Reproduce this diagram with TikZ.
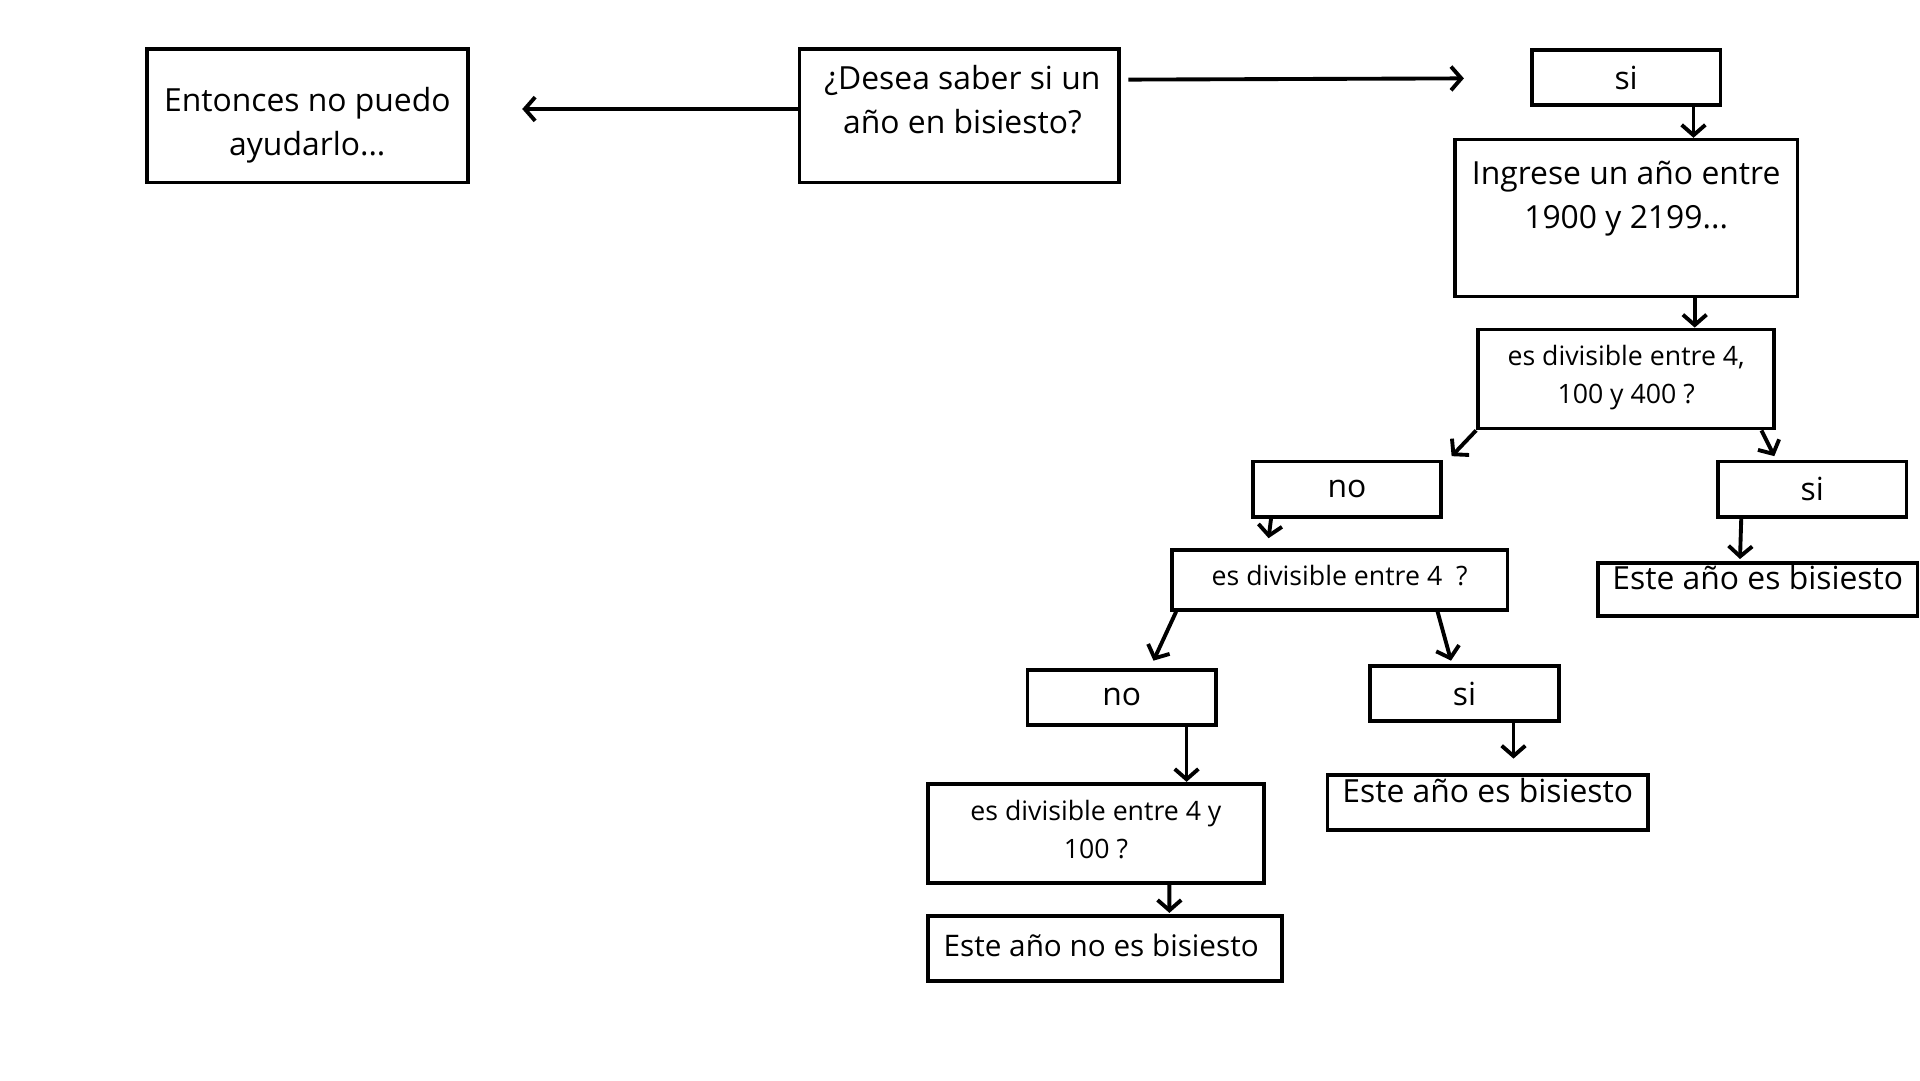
\documentclass[tikz,border=0pt]{standalone}
\usepackage{fontspec}
\setmainfont{Open Sans}
\usetikzlibrary{arrows.meta}
\newcommand{\grande}{\fontsize{7.4}{10.2}\selectfont}
\newcommand{\medio}{\fontsize{6.9}{9.5}\selectfont}
\newcommand{\chico}{\fontsize{6.2}{8.8}\selectfont}
\tikzset{
  box/.style={draw, line width=0.85pt, inner sep=0pt, align=center, font=\grande},
  txt/.style={inner sep=0pt, align=center, font=\grande},
  flecha/.style={->, line width=0.9pt},
  >={Straight Barb[length=2.4pt,width=5.5pt]}
}
\begin{document}
\begin{tikzpicture}
                \useasboundingbox (0,0) rectangle (15.68,-8.82);
                % cajas
                \node[box, minimum width=2.62cm, minimum height=1.09cm] (entonces) at (2.51,-0.945) {};
                \node[txt] (entonces-t) at (2.51,-1.02) {Entonces no puedo\\ayudarlo...};
                \node[box, minimum width=2.61cm, minimum height=1.09cm] (desea) at (7.835,-0.945) {};
                \node[txt] (desea-t) at (7.86,-0.81) {¿Desea saber si un\\año en bisiesto?};
                \node[box, minimum width=1.54cm, minimum height=0.45cm] (si1) at (13.28,-0.635) {si};
                \node[box, minimum width=2.80cm, minimum height=1.28cm] (ingrese) at (13.28,-1.78) {};
                \node[txt] (ingrese-t) at (13.28,-1.625) {Ingrese un año entre\\1900 y 2199...};
                \node[box, minimum width=2.42cm, minimum height=0.81cm] (div1) at (13.28,-3.095) {};
                \node[txt, font=\chico] (div1-t) at (13.28,-3.08) {es divisible entre 4,\\100 y 400 ?};
                \node[box, minimum width=1.54cm, minimum height=0.45cm] (no1) at (11.00,-3.995) {no};
                \node[box, minimum width=1.54cm, minimum height=0.45cm] (si2) at (14.80,-3.995) {si};
                \node[box, minimum width=2.61cm, minimum height=0.43cm] (bis1) at (14.355,-4.815) {};
                \node[txt] (bis1-t) at (14.355,-4.72) {Este año es bisiesto};
                \node[box, minimum width=2.74cm, minimum height=0.49cm] (div2) at (10.94,-4.735) {};
                \node[txt, font=\chico] (div2-t) at (10.94,-4.70) {es divisible entre 4~ ?};
                \node[box, minimum width=1.54cm, minimum height=0.45cm] (no2) at (9.16,-5.695) {no};
                \node[box, minimum width=1.54cm, minimum height=0.45cm] (si3) at (11.96,-5.665) {si};
                \node[box, minimum width=2.62cm, minimum height=0.45cm] (bis2) at (12.15,-6.555) {};
                \node[txt] (bis2-t) at (12.15,-6.46) {Este año es bisiesto};
                \node[box, minimum width=2.74cm, minimum height=0.81cm] (div3) at (8.95,-6.805) {};
                \node[txt, font=\chico] (div3-t) at (8.95,-6.775) {es divisible entre 4 y\\100 ?};
                \node[box, minimum width=2.89cm, minimum height=0.53cm] (nobis) at (9.025,-7.745) {};
                \node[txt, font=\medio, anchor=west] (nobis-t) at (7.70,-7.72) {Este año no es bisiesto};
                % flechas
                \draw[flecha] ([yshift=0.055cm]desea.west) -- ([shift={(0.43,0.055)}]entonces.east);
                \draw[flecha] ([shift={(0.06,0.295)}]desea.east) -- ([shift={(-0.54,-0.005)}]si1.west);
                \draw[flecha] ([xshift=0.55cm]si1.south) -- ([xshift=0.55cm]ingrese.north);
                \draw[flecha] ([xshift=0.56cm]ingrese.south) -- ([xshift=0.56cm]div1.north);
                \draw[flecha] (div1.south west) -- ([shift={(0.07,0.03)}]no1.north east);
                \draw[flecha] ([xshift=-0.12cm]div1.south east) -- ([shift={(-0.31,0.03)}]si2.north);
                \draw[flecha] ([xshift=-0.62cm]no1.south) -- ([shift={(-0.58,0.08)}]div2.north);
                \draw[flecha] ([xshift=-0.58cm]si2.south) -- ([shift={(-0.145,0.02)}]bis1.north);
                \draw[flecha] ([xshift=0.05cm]div2.south west) -- ([shift={(0.26,0.06)}]no2.north);
                \draw[flecha] ([xshift=0.80cm]div2.south) -- ([shift={(-0.11,0.03)}]si3.north);
                \draw[flecha] ([xshift=0.53cm]no2.south) -- ([xshift=0.74cm]div3.north);
                \draw[flecha] ([xshift=0.40cm]si3.south) -- ([shift={(0.21,0.12)}]bis2.north);
                \draw[flecha] ([xshift=0.60cm]div3.south) -- ([shift={(0.525,0.01)}]nobis.north);
            \end{tikzpicture}
\end{document}
